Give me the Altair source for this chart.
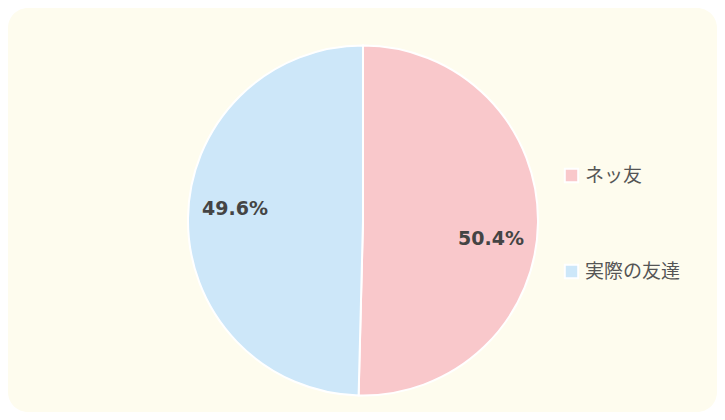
import altair as alt
import pandas as pd

categories = ["ネッ友", "実際の友達"]
values = [50.4, 49.6]
labels = ["50.4%", "49.6%"]
order = [1, 2]
colors = ["#f9c8cb", "#cde7f9"]

df = pd.DataFrame({"cat": categories, "val": values, "label": labels, "ord": order})

W, H = 709, 404
CX, CY = 355, 212.5

bg = alt.Chart(alt.Data(values=[{}])).mark_rect(
    cornerRadius=20, color="#fefcee"
).encode(x=alt.value(0), x2=alt.value(W), y=alt.value(0), y2=alt.value(H))

base = alt.Chart(df).encode(
    x=alt.value(CX),
    y=alt.value(CY),
)

pie = base.mark_arc(outerRadius=175, stroke="white", strokeWidth=2).encode(
    theta=alt.Theta("val:Q", stack=True),
    order=alt.Order("ord:Q"),
    color=alt.Color(
        "cat:N",
        scale=alt.Scale(domain=categories, range=colors),
        sort=categories,
        legend=alt.Legend(
            title=None,
            orient="none",
            legendX=554,
            legendY=158,
            direction="vertical",
            rowPadding=73,
            labelFontSize=19,
            labelFont="Noto Sans CJK JP",
            labelColor="#555555",
            labelOffset=4,
            symbolType="square",
            symbolSize=180,
            symbolStrokeColor="white",
            symbolStrokeWidth=2,
            padding=0,
        ),
    ),
)

lab = base.transform_joinaggregate(total="sum(val)").transform_window(
    cum="sum(val)", sort=[alt.SortField("ord")]
).transform_calculate(mid="(datum.cum - datum.val / 2) / datum.total")

txt_style = dict(radius=128, font="DejaVu Sans", fontWeight="bold", fontSize=19, color="#444444")
theta_mid = alt.Theta("mid:Q", stack=None, scale=alt.Scale(domain=[0, 1], range=[0, 6.283185307179586]))

t1 = lab.transform_filter(alt.datum.cat == categories[0]).mark_text(dy=17, **txt_style).encode(
    theta=theta_mid, text="label:N"
)
t2 = lab.transform_filter(alt.datum.cat == categories[1]).mark_text(dy=-10, **txt_style).encode(
    theta=theta_mid, text="label:N"
)

chart = alt.layer(bg, pie, t1, t2).resolve_scale(theta="independent").properties(
    width=W, height=H, autosize=alt.AutoSizeParams(type="none"), padding=0,
    background="transparent",
).configure_view(stroke=None)

chart.save("out.html", embed_options={"renderer": "svg", "actions": False})
